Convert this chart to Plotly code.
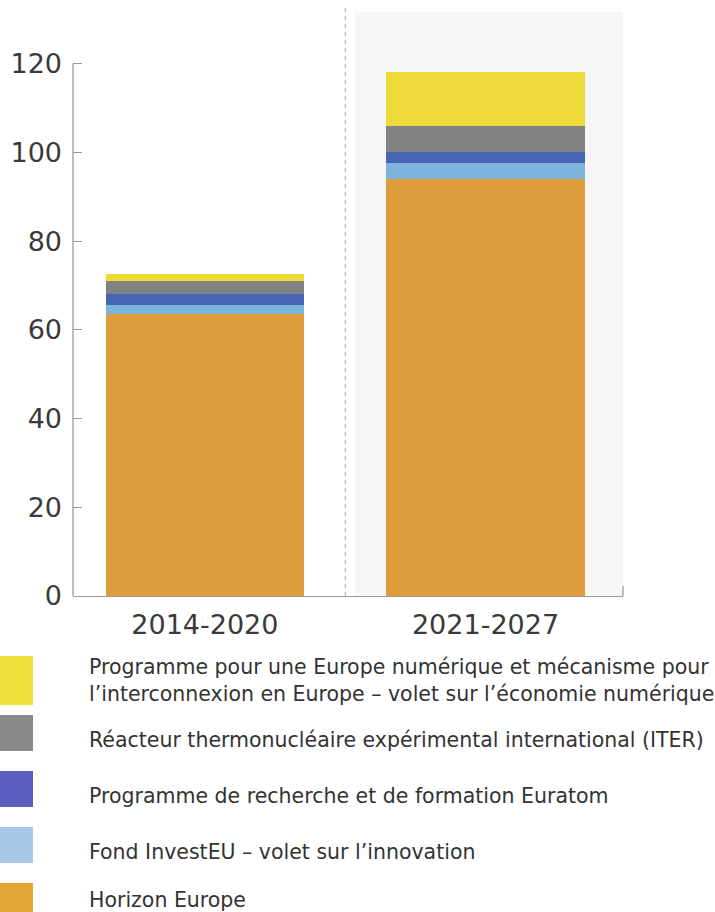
import plotly.graph_objects as go

# ---- data ----
periods = ["2014-2020", "2021-2027"]
horizon_europe = [63.5, 94.1]
investeu_innovation = [2.2, 3.5]
euratom = [2.4, 2.4]
iter_reactor = [3.0, 6.0]
digital_europe = [1.5, 12.2]
y_ticks = [0, 20, 40, 60, 80, 100, 120]

series = [
    ("Horizon Europe", horizon_europe, "#DE9C3B", "#E3A634"),
    ("Fond InvestEU – volet sur l’innovation", investeu_innovation, "#7DB4DE", "#A8C8E8"),
    ("Programme de recherche et de formation Euratom", euratom, "#4864B4", "#5A5EBF"),
    ("Réacteur thermonucléaire expérimental international (ITER)", iter_reactor, "#818284", "#8A8A8A"),
    ("Programme pour une Europe numérique et mécanisme pour<br>l’interconnexion en Europe – volet sur l’économie numérique",
     digital_europe, "#EEDA38", "#EFE03A"),
]

W, H = 715, 912
L, R, T, B = 73, 623, 11, 596


def px(x):
    return (x - L) / (R - L)


def py(y):
    return (B - y) / (B - T)


xpos = list(range(len(periods)))

fig = go.Figure()
for name, vals, col, _ in series:
    fig.add_trace(go.Bar(x=xpos, y=vals, name=name, marker=dict(color=col, line=dict(width=0)),
                         width=0.706, showlegend=False))

shapes = []
# shaded forecast area
shapes.append(dict(type="rect", xref="paper", yref="paper", x0=px(355), x1=1.0, y0=0, y1=py(12),
                   fillcolor="#F6F6F7", line=dict(width=0), layer="below"))
# dashed divider
shapes.append(dict(type="line", xref="x", yref="paper", x0=0.5, x1=0.5, y0=0, y1=py(8),
                   line=dict(color="#A8A8A8", width=1, dash="4px,4px"), layer="below"))
# y axis line (0 -> 120)
shapes.append(dict(type="line", xref="paper", yref="y", x0=0, x1=0, y0=0, y1=120,
                   line=dict(color="#9A9A9A", width=1.3)))
# right end tick of x axis
shapes.append(dict(type="line", xref="paper", yref="paper", x0=1.0, x1=1.0, y0=0, y1=py(586),
                   line=dict(color="#9A9A9A", width=1.3)))

# custom legend
legend_rows = [  # (series index, box top px, box bottom px, text center px)
    (4, 656, 705, 680),
    (3, 715, 751, 740),
    (2, 771, 807, 796),
    (1, 827, 863, 852),
    (0, 883, 919, 900),
]
annotations = []
for idx, top, bot, tc in legend_rows:
    name, _, _, lcol = series[idx]
    shapes.append(dict(type="rect", xref="paper", yref="paper", x0=px(0), x1=px(33),
                       y0=py(bot), y1=py(top), fillcolor=lcol, line=dict(width=0)))
    annotations.append(dict(xref="paper", yref="paper", x=px(87), y=py(tc), xanchor="left",
                            yanchor="middle", align="left", showarrow=False, text=name,
                            font=dict(family="DejaVu Sans", size=20.5, color="#333333")))

fig.update_layout(
    width=W, height=H,
    margin=dict(l=L, r=W - R, t=T, b=H - B, pad=0),
    paper_bgcolor="white", plot_bgcolor="rgba(0,0,0,0)",
    barmode="stack", bargap=0,
    shapes=shapes, annotations=annotations,
    font=dict(family="DejaVu Sans", color="#3A3A3A"),
    showlegend=False,
)
fig.update_xaxes(range=[-0.47, 1.49], tickvals=xpos, ticktext=periods, showgrid=False,
                 zeroline=False, showline=True, linecolor="#9A9A9A", linewidth=1.3,
                 ticks="", tickfont=dict(size=27, color="#3A3A3A"), ticklabelstandoff=4)
fig.update_yaxes(range=[0, 131.9], tickvals=y_ticks, showgrid=False, zeroline=False,
                 showline=False, ticks="inside", ticklen=9, tickcolor="#9A9A9A", tickwidth=1.3,
                 tickfont=dict(size=27, color="#3A3A3A"), ticklabelstandoff=10)

fig.write_html("out.html", config={"displayModeBar": False},
               post_script="document.body.style.margin='0';document.body.style.overflow='hidden';")
